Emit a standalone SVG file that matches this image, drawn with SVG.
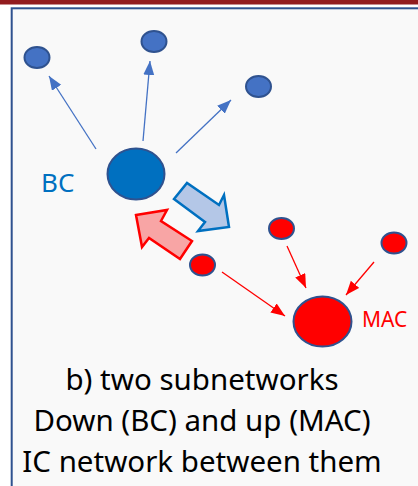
<svg xmlns="http://www.w3.org/2000/svg" width="418" height="486" viewBox="0 0 418 486">
<defs>
<style>
.frame{fill:#f9f9f9;stroke:#2f528f;stroke-width:2}
.bn{fill:#4472c4;stroke:#2f528f;stroke-width:2}
.rn{fill:#ff0000;stroke:#2f528f;stroke-width:2}
.bl{stroke:#4472c4;stroke-width:1.3;fill:none}
.rl{stroke:#ff0000;stroke-width:1.3;fill:none}
.cap{font-family:"Noto Sans","Open Sans",sans-serif;font-size:29.5px;fill:#000;text-anchor:middle}
.lab{font-family:"Noto Sans","Open Sans",sans-serif}
</style>
<marker id="ab" markerUnits="userSpaceOnUse" markerWidth="15" markerHeight="12" refX="14" refY="5.5" orient="auto"><path d="M0,0 L14,5.5 L0,11 z" fill="#4472c4"/></marker>
<marker id="ar" markerUnits="userSpaceOnUse" markerWidth="15" markerHeight="12" refX="14" refY="5.5" orient="auto"><path d="M0,0 L14,5.5 L0,11 z" fill="#ff0000"/></marker>
</defs>
<rect x="0" y="0" width="418" height="486" fill="#ffffff"/>
<rect x="0" y="0" width="418" height="4.5" fill="#921b1e"/>
<rect class="frame" x="11.7" y="8.3" width="420" height="490"/>
<g id="connectors">
<line class="bl" x1="96" y1="149" x2="49" y2="76" marker-end="url(#ab)"/>
<line class="bl" x1="143" y1="141" x2="150" y2="61" marker-end="url(#ab)"/>
<line class="bl" x1="176" y1="153" x2="231" y2="100" marker-end="url(#ab)"/>
<line class="rl" x1="222" y1="272" x2="285" y2="316" marker-end="url(#ar)"/>
<line class="rl" x1="287" y1="246" x2="306" y2="288" marker-end="url(#ar)"/>
<line class="rl" x1="374" y1="262" x2="346" y2="295" marker-end="url(#ar)"/>
<polygon points="174,199 187,183 219,205 224,195 229,227 198,231 205,222" fill="#b4c7e7" stroke="#0070c0" stroke-width="2.5" stroke-linejoin="miter"/>
<polygon points="136,215 167,210 161,221 192,241 180,259 149,238 142,247" fill="#f8a5a5" stroke="#ff0000" stroke-width="2.5" stroke-linejoin="miter"/>
</g>
<g id="b1"><ellipse class="bn" cx="37" cy="57.5" rx="12.5" ry="10.5"/></g>
<g id="b2"><ellipse class="bn" cx="154" cy="41.5" rx="12.5" ry="10.5"/></g>
<g id="b3"><ellipse class="bn" cx="258.5" cy="86.5" rx="12.5" ry="10.5"/></g>
<g id="bc"><ellipse cx="136" cy="174" rx="28.5" ry="25.5" fill="#0070c0" stroke="#2f528f" stroke-width="2"/>
<text class="lab" x="41" y="192" font-size="26" fill="#0070c0">BC</text></g>
<g id="r1"><ellipse class="rn" cx="202.5" cy="265" rx="12.5" ry="10.5"/></g>
<g id="r2"><ellipse class="rn" cx="281.5" cy="228.5" rx="12.5" ry="10.5"/></g>
<g id="r3"><ellipse class="rn" cx="394" cy="243" rx="12.5" ry="10.5"/></g>
<g id="mac"><ellipse class="rn" cx="322.5" cy="321.5" rx="29" ry="25"/>
<text class="lab" x="362" y="327" font-size="21" fill="#ff0000">MAC</text></g>
<g id="caption">
<text class="cap" x="202" y="390">b) two subnetworks</text>
<text class="cap" x="202" y="431">Down (BC) and up (MAC)</text>
<text class="cap" x="202" y="472">IC network between them</text>
</g>
</svg>
